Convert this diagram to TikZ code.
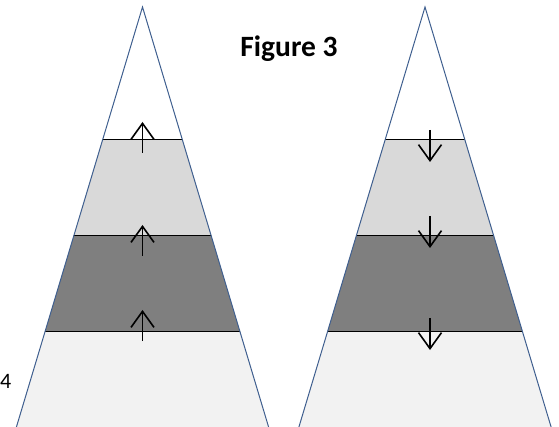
\documentclass[tikz,border=0pt]{standalone}
\usepackage{fontspec}
\setmainfont{Carlito}
\usetikzlibrary{arrows.meta}
\definecolor{rim}{HTML}{3F5F8F}
\definecolor{paleband}{HTML}{D9D9D9}
\definecolor{darkband}{HTML}{7F7F7F}
\definecolor{baseband}{HTML}{F2F2F2}

\begin{document}
\begin{tikzpicture}[x=1pt,y=-1pt,
   rim line/.style={draw=rim,line width=1pt},
   layer/.style={draw=black,line width=1.2pt},
   flow/.style={-{Straight Barb[length=16pt,width=23pt]},line width=1.6pt}]
   \useasboundingbox (0,0) rectangle (559,427);
   \clip (0,0) rectangle (559,427);
   % the two pyramids
   \foreach \cx in {142.5,425} {
      \begin{scope}
         \clip (\cx,7) -- (\cx-130,440) -- (\cx+130,440) -- cycle;
         \fill[paleband] (\cx-140,139.5) rectangle (\cx+140,235.5);
         \fill[darkband] (\cx-140,235.5) rectangle (\cx+140,331.5);
         \fill[baseband] (\cx-140,331.5) rectangle (\cx+140,440);
         \draw[layer] (\cx-140,139.5) -- (\cx+140,139.5)
                      (\cx-140,235.5) -- (\cx+140,235.5)
                      (\cx-140,331.5) -- (\cx+140,331.5);
      \end{scope}
      \draw[rim line] (\cx-130,440) -- (\cx,7) -- (\cx+130,440);
   }
   % arrows
   \foreach \y in {0,103,188} {
      \draw[flow] (142.5,153+\y) -- (142.5,122+\y);
   }
   \foreach \y in {0,86,188} {
      \draw[flow] (430,130+\y) -- (430,162+\y);
   }
   \node[anchor=base,font=\bfseries\fontsize{29.5}{34}\selectfont] (title) at (289,57) {Figure 3};
   \node[anchor=base west,inner sep=0pt,font=\fontsize{22}{26}\selectfont] (num) at (0,388.5) {4};
\end{tikzpicture}
\end{document}
